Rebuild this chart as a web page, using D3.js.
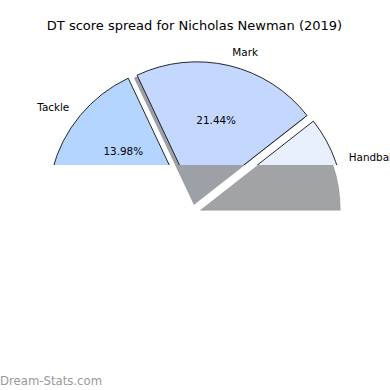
<!DOCTYPE html>
<html><head><meta charset="utf-8">
<script src="https://cdn.jsdelivr.net/npm/d3@7"></script>
<style>body{margin:0;background:#fff} svg{display:block} text{font-family:"DejaVu Sans",sans-serif}</style>
</head><body><svg id="c" width="390" height="390"></svg>
<script>
const title = "DT score spread for Nicholas Newman (2019)";
const categories = ["Handball", "Mark", "Tackle"];
const values = [10.58, 21.44, 13.98];          // percent of total
const colors = ["#e8f0fe", "#c4d8ff", "#b4d5ff"];
const shadowBelow = [true, true, false];
const watermark = "Dream-Stats.com";

const cx = 194.8, cy = 210.4, R = 140, explode = 0.063, clipY = 165, sh = 0.02 * R;
const svg = d3.select("#c");
const defs = svg.append("defs");
defs.append("clipPath").attr("id", "top").append("rect").attr("x", 0).attr("y", 0).attr("width", 390).attr("height", clipY);

const pie = d3.pie().sort(null).value(d => d)
  .startAngle(Math.PI / 2)
  .endAngle(Math.PI / 2 - 2 * Math.PI * d3.sum(values) / 100);
const arcs = pie(values);
const arc = d3.arc().innerRadius(0).outerRadius(R);

const items = arcs.map((a, i) => {
  const m = (a.startAngle + a.endAngle) / 2;
  return {a, i, m, ox: cx + explode * R * Math.sin(m), oy: cy - explode * R * Math.cos(m)};
});

// shadows
const gs = svg.append("g");
items.forEach(d => {
  const c = d3.rgb(colors[d.i]);
  const sc = d3.rgb(c.r * 0.3, c.g * 0.3, c.b * 0.3);
  gs.append("path")
    .attr("d", arc(d.a))
    .attr("transform", `translate(${d.ox - sh},${d.oy + sh})`)
    .attr("fill", sc).attr("fill-opacity", 0.5)
    .attr("stroke", sc).attr("stroke-opacity", 0.2).attr("stroke-width", 1)
    .attr("clip-path", shadowBelow[d.i] ? null : "url(#top)");
});

// wedges
const gw = svg.append("g").attr("clip-path", "url(#top)");
items.forEach(d => {
  gw.append("path")
    .attr("d", arc(d.a))
    .attr("transform", `translate(${d.ox},${d.oy})`)
    .attr("fill", colors[d.i])
    .attr("stroke", "#111").attr("stroke-width", 0.9).attr("stroke-linejoin", "miter");
});

// labels
const fmt = d3.format(".2f");
items.forEach(d => {
  const lx = d.ox + 1.1 * R * Math.sin(d.m), ly = d.oy - 1.1 * R * Math.cos(d.m);
  svg.append("text").attr("x", lx).attr("y", ly)
    .attr("text-anchor", Math.sin(d.m) > 0 ? "start" : "end")
    .attr("dominant-baseline", "central")
    .attr("font-size", "10.4px").attr("fill", "#000")
    .text(categories[d.i]);
  const px = d.ox + 0.6 * R * Math.sin(d.m), py = d.oy - 0.6 * R * Math.cos(d.m);
  if (py < clipY - 6) {
    svg.append("text").attr("x", px).attr("y", py)
      .attr("text-anchor", "middle").attr("dominant-baseline", "central")
      .attr("font-size", "10.4px").attr("fill", "#000")
      .text(fmt(values[d.i]) + "%");
  }
});

svg.append("text").attr("x", 194.5).attr("y", 29.5).attr("text-anchor", "middle")
  .attr("font-size", "13px").attr("fill", "#000").text(title);

svg.append("text").attr("x", 0).attr("y", 384.5)
  .attr("font-size", "11.7px").attr("fill", "#999").text(watermark);
</script></body></html>
